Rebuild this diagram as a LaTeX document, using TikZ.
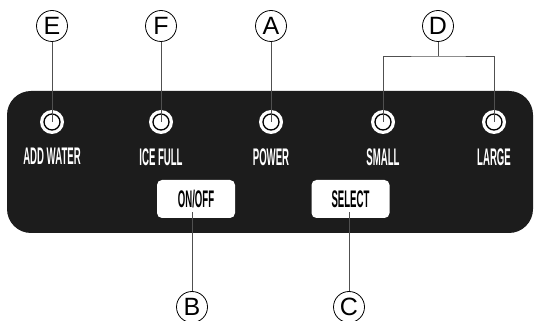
\documentclass[tikz,border=0pt]{standalone}
\usepackage{fontspec}
\setmainfont{Liberation Sans}
\newfontfamily\condfont[FakeStretch=0.40]{Liberation Sans}
\definecolor{panelNegro}{RGB}{28,28,28}
\definecolor{lineaGris}{RGB}{80,80,80}
\usetikzlibrary{positioning}

\begin{document}
\begin{tikzpicture}[
  x=1pt, y=1pt,
  panel/.style={rectangle, rounded corners=24pt, fill=panelNegro,
                minimum width=526pt, minimum height=142pt, inner sep=0pt},
  led/.style={circle, fill=white, minimum size=24pt, inner sep=0pt,
              path picture={\draw[black, line width=1.3pt]
                (path picture bounding box.center) circle (8pt);}},
  etiq/.style={font=\condfont\bfseries\fontsize{24}{24}\selectfont,
               text=white, inner sep=0pt},
  boton/.style={rectangle, rounded corners=5pt, fill=white, inner sep=0pt,
                minimum width=78pt, minimum height=38pt, text=black,
                font=\condfont\bfseries\fontsize{24}{24}\selectfont},
  letra/.style={circle, draw=black, line width=0.8pt, fill=white,
                minimum size=31pt, inner sep=0pt, font=\fontsize{25}{25}\selectfont},
  conector/.style={draw=lineaGris, line width=0.8pt}
]
\fill[white] (0,0) rectangle (535,321);
\useasboundingbox (0,0) rectangle (535,321);

% Panel
\node[panel] (panel) at (270,159) {};

% Pilotos
\node[led] (ledE) at (52,199)  {};
\node[led] (ledF) at (161,199) {};
\node[led] (ledA) at (271,199) {};
\node[led] (ledS) at (383,199) {};
\node[led] (ledL) at (494,199) {};

\node[etiq, below=14pt of ledE] (tE) {ADD WATER};
\node[etiq, below=14pt of ledF] (tF) {ICE FULL};
\node[etiq, below=14pt of ledA] (tA) {POWER};
\node[etiq, below=14pt of ledS] (tS) {SMALL};
\node[etiq, below=14pt of ledL] (tL) {LARGE};

% Botones
\node[boton] (onoff)  at (196,122)   {ON/OFF};
\node[boton] (select) at (350.5,122) {SELECT};

% Letras
\node[letra] (E) at (52,295)  {E};
\node[letra] (F) at (161,295) {F};
\node[letra] (A) at (271,295) {A};
\node[letra] (D) at (438,295) {D};
\node[letra] (B) at (192,14)  {B};
\node[letra] (C) at (349,14)  {C};

% Lineas
\draw[conector] (E) -- (ledE.center);
\draw[conector] (F) -- (ledF.center);
\draw[conector] (A) -- (ledA.center);
\coordinate (dmid) at (438,265);
\draw[conector] (D) -- (dmid);
\draw[conector] (ledS.center) |- (dmid) -| (ledL.center);
\draw[conector, shorten >=5pt] (B) -- (B |- onoff.base);
\draw[conector, shorten >=5pt] (C) -- (C |- select.base);

\end{tikzpicture}
\end{document}
